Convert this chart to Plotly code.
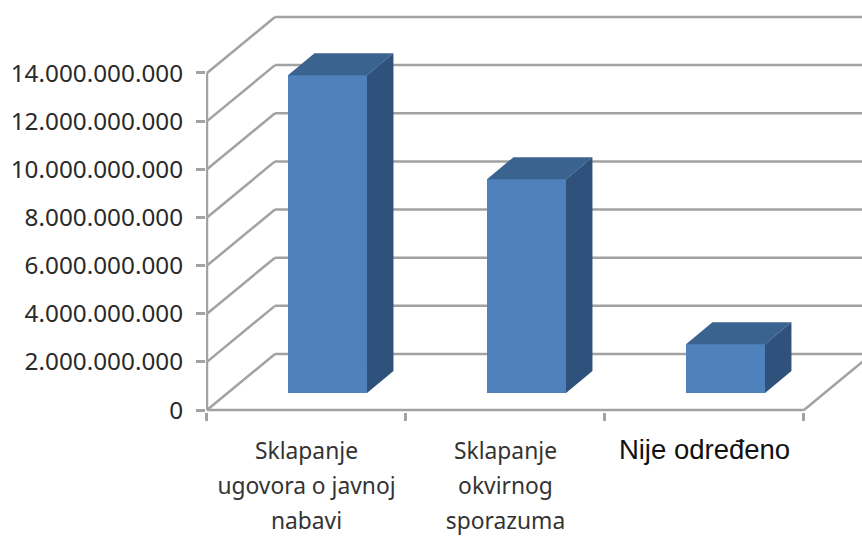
import plotly.graph_objects as go

categories = ["Sklapanje<br>ugovora o javnoj<br>nabavi", "Sklapanje<br>okvirnog<br>sporazuma", "Nije određeno"]
values = [13.2e9, 8.88e9, 2.03e9]
y_ticks = [0, 2e9, 4e9, 6e9, 8e9, 10e9, 12e9, 14e9]
y_tick_labels = ["0", "2.000.000.000", "4.000.000.000", "6.000.000.000", "8.000.000.000",
                 "10.000.000.000", "12.000.000.000", "14.000.000.000"]

GRID = "#a2a2a2"
FRONT, TOP, SIDE = "#4f81bd", "#3b6390", "#2f527c"
WALL_DX, WALL_DY = 0.3417, 2.327e9     # 3D wall depth in axis units
BAR_DX, BAR_DY = 0.133, 0.914e9        # 3D bar depth
BAR_W, BAR_SHIFT, BAR_BASE = 0.397, 0.1055, 0.706e9
X_L, X_R = -0.5, 2.5

fig = go.Figure()
xs = [i + BAR_SHIFT for i in range(len(values))]
fig.add_trace(go.Bar(x=xs, y=values, base=[BAR_BASE] * len(values), width=BAR_W,
                     marker=dict(color=FRONT, line=dict(width=0))))
for x, v in zip(xs, values):
    l, r, b, t = x - BAR_W / 2, x + BAR_W / 2, BAR_BASE, BAR_BASE + v
    fig.add_trace(go.Scatter(x=[l, r, r + BAR_DX, l + BAR_DX, l], y=[t, t, t + BAR_DY, t + BAR_DY, t],
                             mode="lines", fill="toself", fillcolor=TOP, line=dict(width=0)))
    fig.add_trace(go.Scatter(x=[r, r + BAR_DX, r + BAR_DX, r, r], y=[t, t + BAR_DY, b + BAR_DY, b, t],
                             mode="lines", fill="toself", fillcolor=SIDE, line=dict(width=0)))

line = dict(color=GRID, width=2.5)
def seg(x0, y0, x1, y1):
    fig.add_shape(type="line", xref="x", yref="y", x0=x0, y0=y0, x1=x1, y1=y1, line=line, layer="below")

for v in y_ticks:
    seg(X_L, v, X_L + WALL_DX, v + WALL_DY)
    seg(X_L + WALL_DX, v + WALL_DY, X_R + WALL_DX, v + WALL_DY)
seg(X_L, 0, X_L, y_ticks[-1])
seg(X_L, 0, X_R, 0)
seg(X_R, 0, X_R + WALL_DX, WALL_DY)

x_text = []
for i, c in enumerate(categories):
    parts = c.split("<br>")
    if i == 2:
        style = "font-size:27.5px;fill:#111111;font-family:'Liberation Sans'"
    else:
        style = "font-size:22.8px;fill:#333333"
    x_text.append("<br>".join(f'<span style="{style}">{p}</span>' for p in parts))

fig.update_layout(
    width=862, height=537, autosize=False, showlegend=False, bargap=0,
    margin=dict(l=206, r=0, t=8, b=125, pad=0),
    paper_bgcolor="white", plot_bgcolor="white",
    font=dict(family="Noto Sans", color="#333333"),
    xaxis=dict(range=[-0.505, 2.7915], showgrid=False, zeroline=False, showline=False,
               tickmode="array", tickvals=[0, 1, 2], ticktext=x_text, ticks="", ticklabelstandoff=19,
               tickangle=0, tickfont=dict(size=27, family="Noto Sans", color="#333333"),
               minor=dict(tickmode="array", tickvals=[-0.5, 0.5, 1.5, 2.5], ticks="outside", ticklen=8,
                          tickwidth=2.5, tickcolor=GRID, showgrid=False)),
    yaxis=dict(range=[-0.083e9, 16.7e9], showgrid=False, zeroline=False, showline=False,
               tickmode="array", tickvals=y_ticks, ticktext=y_tick_labels, ticks="outside",
               ticklen=9, tickwidth=2.5, tickcolor=GRID, ticklabelstandoff=8,
               tickfont=dict(size=24.3, family="Noto Sans", color="#2a2a2a")),
)
fig.write_html("out.html", post_script="document.body.style.margin='0';",
               config=dict(displayModeBar=False))
